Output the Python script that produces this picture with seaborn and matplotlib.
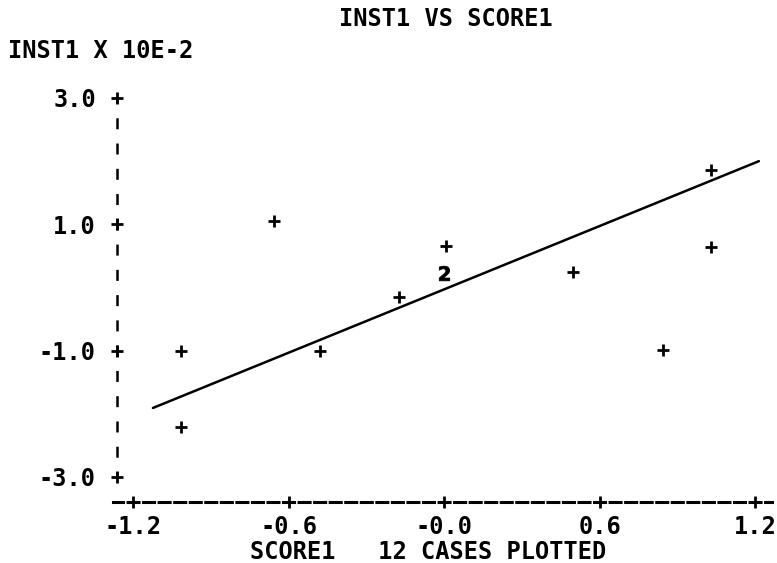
import matplotlib
matplotlib.use("Agg")
import matplotlib.pyplot as plt
import seaborn as sns
import pandas as pd

# ---- data ----
score1 = [-1.015, -1.015, -0.656, -0.478, -0.174, 0.008, 0.498, 0.845, 1.03, 1.03]
inst1 = [-1.0, -2.21, 1.05, -1.0, -0.15, 0.66, 0.245, -0.99, 1.86, 0.64]
dup_score1 = [0.0]
dup_inst1 = [0.23]
fit_score1 = [-1.123, 1.215]
fit_inst1 = [-1.907, 2.0]
x_ticks = [-1.2, -0.6, 0.0, 0.6, 1.2]
x_tick_labels = ["-1.2", "-0.6", "-0.0", "0.6", "1.2"]
y_ticks = [3.0, 1.0, -1.0, -3.0]
y_tick_labels = ["3.0", "1.0", "-1.0", "-3.0"]
title = "INST1 VS SCORE1"
y_title = "INST1 X 10E-2"
x_title = "SCORE1   12 CASES PLOTTED"

sns.set_theme(style="white")
plt.rcParams["font.family"] = ["DejaVu Sans Mono", "DejaVu Sans"]
plt.rcParams["font.weight"] = "bold"
plt.rcParams["lines.scale_dashes"] = False

W, H = 777, 563
fig = plt.figure(figsize=(W / 100, H / 100), dpi=100)
fig.patch.set_facecolor("white")

# axes box in pixel terms
left_px, right_px, bottom_px, top_px = 113, 772, 502, 90
ax = fig.add_axes([left_px / W, 1 - bottom_px / H,
                   (right_px - left_px) / W, (bottom_px - top_px) / H])
ax.set_facecolor("white")

px_per_x = (755 - 133) / 2.4
px_per_y = (477 - 98) / 6.0
ax.set_xlim(-1.2 - (133 - left_px) / px_per_x, 1.2 + (right_px - 755) / px_per_x)
ax.set_ylim(-3.0 - (bottom_px - 477) / px_per_y, 3.0 + (98 - top_px) / px_per_y)

fs = 17
k = 0.72  # px -> pt

# points
pts = pd.DataFrame({"SCORE1": score1, "INST1": inst1})
sns.scatterplot(data=pts, x="SCORE1", y="INST1", marker="+", s=64,
                linewidth=2.0, color="black", ax=ax, zorder=3)
dup = pd.DataFrame({"SCORE1": dup_score1, "INST1": dup_inst1})
sns.scatterplot(data=dup, x="SCORE1", y="INST1", marker="$2$", s=110,
                linewidth=0.6, edgecolor="black", color="black", ax=ax, zorder=3)

# regression line
fit = pd.DataFrame({"SCORE1": fit_score1, "INST1": fit_inst1})
sns.lineplot(data=fit, x="SCORE1", y="INST1", color="black", linewidth=1.8,
             ax=ax, zorder=2)

# spines styled as dashed printer axes
spine_x = -1.2 - (133 - 117) / px_per_x
for s in ["top", "right"]:
    ax.spines[s].set_visible(False)
ax.spines["left"].set_position(("data", spine_x))
ax.spines["left"].set_bounds(-3.0, 3.0)
ax.spines["left"].set_color("black")
ax.spines["left"].set_linewidth(1.8)
row = px_per_y * 0.4
ax.spines["left"].set_linestyle((5.5 * k, (11 * k, (row - 11) * k)))
ax.spines["left"].set_capstyle("butt")

col = (755 - 133) / 40.0
ax.spines["bottom"].set_color("black")
ax.spines["bottom"].set_linewidth(2.2)
ax.spines["bottom"].set_linestyle((1.0 * k, (11 * k, (col - 11) * k)))

# "+" tick marks
ax.plot([spine_x] * len(y_ticks), y_ticks, linestyle="none", marker="+",
        markersize=8, markeredgewidth=2.0, color="black", clip_on=False, zorder=4)
ybot = ax.get_ylim()[0]
ax.plot(x_ticks, [ybot] * len(x_ticks), linestyle="none", marker="+",
        markersize=8, markeredgewidth=2.0, color="black", clip_on=False, zorder=4)

ax.set_xticks(x_ticks)
ax.set_xticklabels(x_tick_labels)
ax.set_yticks(y_ticks)
ax.set_yticklabels(y_tick_labels)
ax.tick_params(axis="both", length=0, labelsize=fs, labelcolor="black")
ax.tick_params(axis="y", pad=(117 - 96) * k)
ax.tick_params(axis="x", pad=9)
for lab in ax.get_xticklabels() + ax.get_yticklabels():
    lab.set_fontweight("bold")
ax.set_xlabel("")
ax.set_ylabel("")
ax.grid(False)

fig.text(446 / W, 1 - 19.5 / H, title, ha="center", va="center",
         fontsize=fs, fontweight="bold", color="black")
fig.text(8 / W, 1 - 50.5 / H, y_title, ha="left", va="center",
         fontsize=fs, fontweight="bold", color="black")
fig.text(428 / W, 1 - 552 / H, x_title, ha="center", va="center",
         fontsize=fs, fontweight="bold", color="black")

fig.savefig("out.png", dpi=100, facecolor="white")
